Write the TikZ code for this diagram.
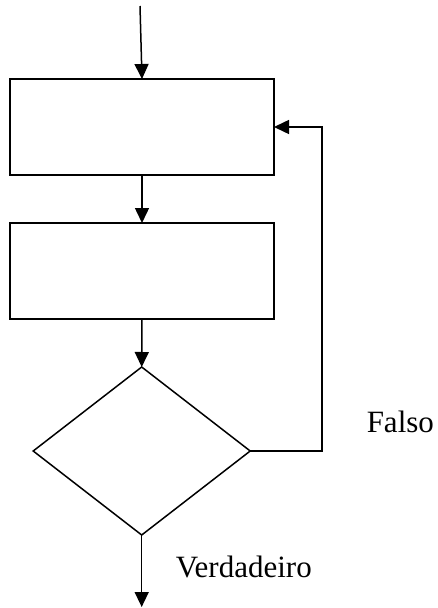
\documentclass[tikz,border=0pt]{standalone}
\usepackage{fontspec}
\setmainfont{Liberation Serif}
\usetikzlibrary{shapes.geometric,arrows.meta}
\begin{document}
\begin{tikzpicture}[x=1pt,y=-1pt,
  line width=1.5pt,
  flow/.style={draw=black,line width=1.5pt,-{Triangle[length=15pt,width=14pt]}},
  procbox/.style={draw=black,rectangle,minimum width=264pt,minimum height=96pt,inner sep=0pt,outer sep=0pt},
  testbox/.style={draw=black,diamond,minimum width=217pt,minimum height=168pt,inner sep=0pt,outer sep=0pt},
  lbl/.style={anchor=base west,inner sep=0pt,font=\fontsize{31}{36}\selectfont}]
  \useasboundingbox (0,0) rectangle (437,608);

  % process blocks and decision
  \node[procbox] (p1) at (142,127) {};
  \node[procbox] (p2) at (142,271) {};
  \node[testbox] (d) at (141.7,451) {};

  % entry, exit and loop-back points
  \coordinate (in) at (140,6);
  \coordinate (out) at (141.7,607);
  \coordinate (back) at (322,290);

  % connectors
  \draw[flow] (in) -- (p1.north);
  \draw[flow] (p1.south) -- (p2.north);
  \draw[flow] (p2.south) -- (d.north);
  \draw[flow] (d.south) -- (out);
  \draw[flow] (d.east) -| (back) |- (p1.east);

  % branch labels
  \node[lbl] (f) at (366,432) {Falso};
  \node[lbl] (v) at (175,577) {Verdadeiro};
\end{tikzpicture}
\end{document}
